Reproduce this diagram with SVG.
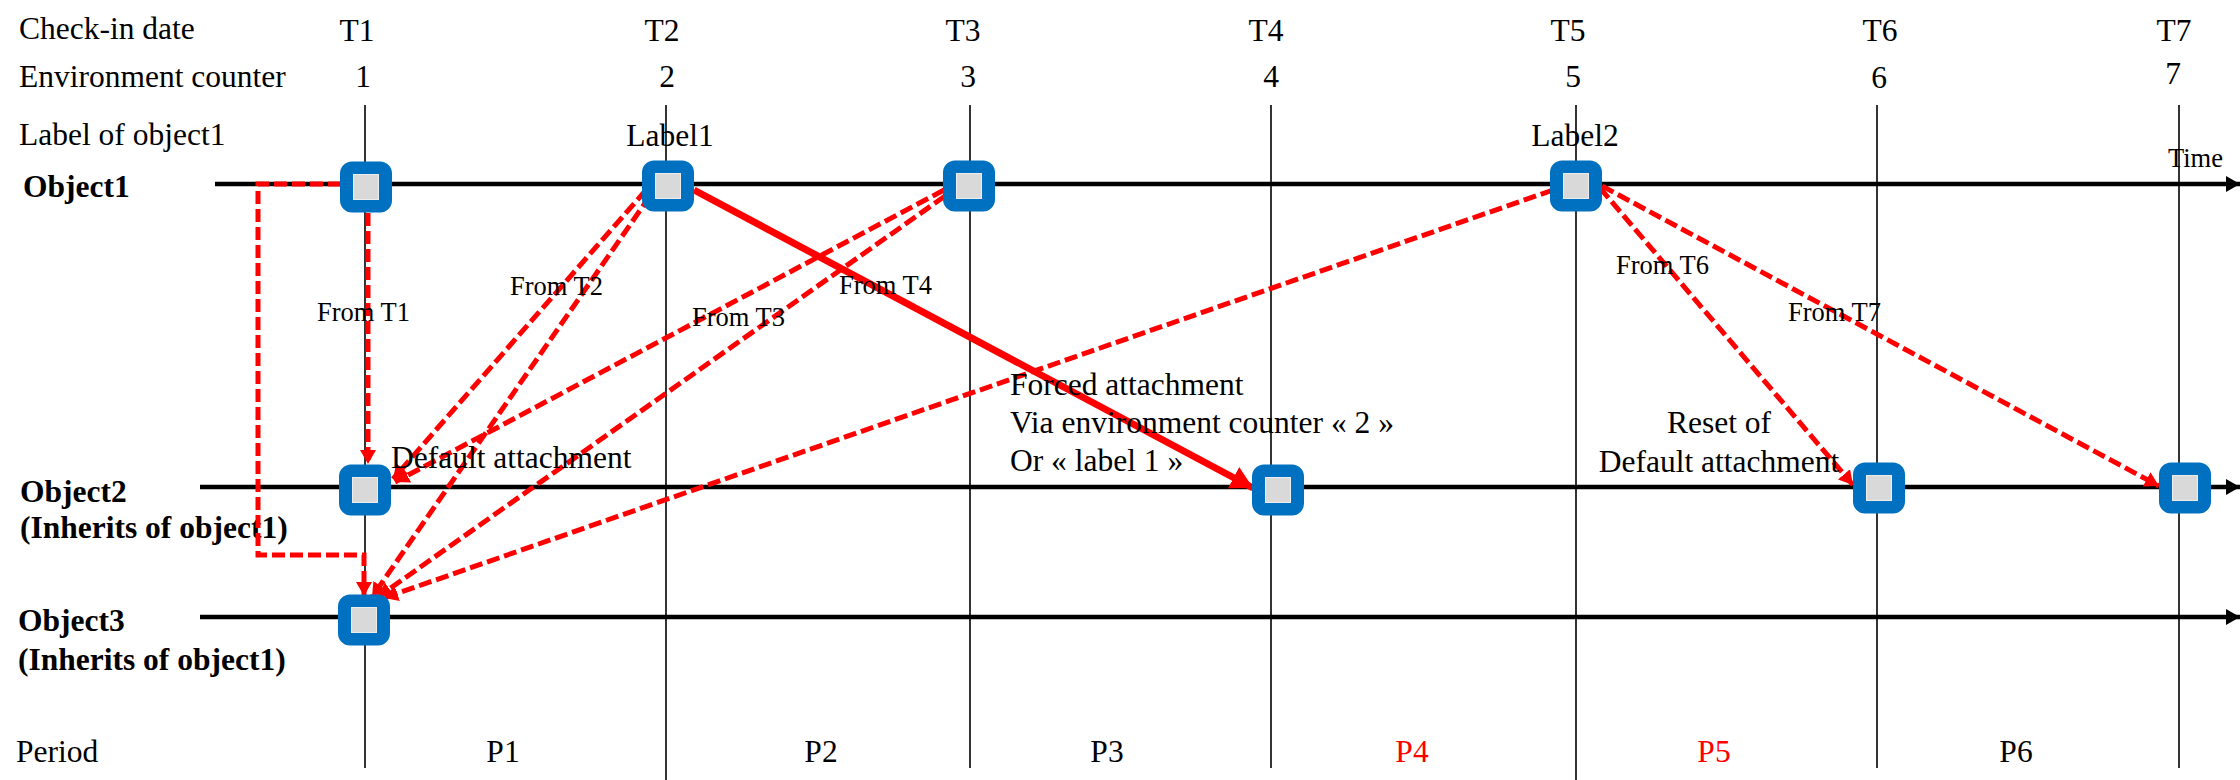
<svg xmlns="http://www.w3.org/2000/svg" width="2240" height="780" viewBox="0 0 2240 780">
<defs>
<style>
.t{font-family:"Liberation Serif","Times New Roman",serif;font-size:31.5px;fill:#000}
.s{font-family:"Liberation Serif","Times New Roman",serif;font-size:26.5px;fill:#000}
.b{font-family:"Liberation Serif","Times New Roman",serif;font-size:31.5px;font-weight:bold;fill:#000}
.c{text-anchor:middle}
.red{fill:#FF0000}
.vl{stroke:#000;stroke-width:1.6;fill:none}
.hl{stroke:#000;stroke-width:4.5;fill:none}
.dash{stroke:#FF0000;stroke-width:5;stroke-dasharray:13 5;fill:none}
.solid{stroke:#FF0000;stroke-width:7;fill:none}
.outer{fill:#0070C0}
.inner{fill:#D9D9D9;stroke:#EDEDED;stroke-width:1}
</style>
<marker id="ab" markerUnits="userSpaceOnUse" markerWidth="16" markerHeight="16" refX="14" refY="8" orient="auto"><path d="M0,0 L14,8 L0,16 z" fill="#000"/></marker>
<marker id="ar" markerUnits="userSpaceOnUse" markerWidth="16" markerHeight="16" refX="14" refY="8" orient="auto"><path d="M0,0 L14,8 L0,16 z" fill="#FF0000"/></marker>
<marker id="arb" markerUnits="userSpaceOnUse" markerWidth="24" markerHeight="24" refX="22" refY="12" orient="auto"><path d="M0,0 L22,12 L0,24 z" fill="#FF0000"/></marker>
</defs>
<rect width="2240" height="780" fill="#fff"/>

<g id="grid">
<line class="vl" x1="365" y1="105" x2="365" y2="768"/>
<line class="vl" x1="666" y1="105" x2="666" y2="780"/>
<line class="vl" x1="970" y1="105" x2="970" y2="768"/>
<line class="vl" x1="1271" y1="105" x2="1271" y2="768"/>
<line class="vl" x1="1576" y1="105" x2="1576" y2="780"/>
<line class="vl" x1="1877" y1="105" x2="1877" y2="768"/>
<line class="vl" x1="2179" y1="105" x2="2179" y2="768"/>
<line class="hl" x1="215" y1="184" x2="2240" y2="184" marker-end="url(#ab)"/>
<line class="hl" x1="200" y1="487" x2="2240" y2="487" marker-end="url(#ab)"/>
<line class="hl" x1="200" y1="617" x2="2240" y2="617" marker-end="url(#ab)"/>
</g>

<g id="labels">
<text class="t" x="19" y="39">Check-in date</text>
<text class="t c" x="357" y="41">T1</text>
<text class="t c" x="662" y="41">T2</text>
<text class="t c" x="963" y="41">T3</text>
<text class="t c" x="1266" y="41">T4</text>
<text class="t c" x="1568" y="41">T5</text>
<text class="t c" x="1880" y="41">T6</text>
<text class="t c" x="2174" y="41">T7</text>
<text class="t" x="19" y="87">Environment counter</text>
<text class="t c" x="363" y="87">1</text>
<text class="t c" x="667" y="87">2</text>
<text class="t c" x="968" y="87">3</text>
<text class="t c" x="1271" y="87">4</text>
<text class="t c" x="1573" y="87">5</text>
<text class="t c" x="1879" y="88">6</text>
<text class="t c" x="2173" y="84">7</text>
<text class="t" x="19" y="145">Label of object1</text>
<text class="t c" x="670" y="146">Label1</text>
<text class="t c" x="1575" y="146">Label2</text>
<text class="s" x="2168" y="167">Time</text>
<text class="b" x="23" y="197">Object1</text>
<text class="b" x="20" y="502">Object2</text>
<text class="b" x="20" y="538">(Inherits of object1)</text>
<text class="b" x="18" y="631">Object3</text>
<text class="b" x="18" y="670">(Inherits of object1)</text>
<text class="t" x="16" y="762">Period</text>
<text class="t c" x="503" y="762">P1</text>
<text class="t c" x="821" y="762">P2</text>
<text class="t c" x="1107" y="762">P3</text>
<text class="t c red" x="1412" y="762">P4</text>
<text class="t c red" x="1714" y="762">P5</text>
<text class="t c" x="2016" y="762">P6</text>
</g>

<g id="connectors">
<path class="dash" d="M341,184 H258 V555 H364 V596" marker-end="url(#ar)"/>
<path class="dash" d="M368,213 V464" marker-end="url(#ar)"/>
<path class="dash" d="M646,190 L393,479" marker-end="url(#ar)"/>
<path class="dash" d="M650,196 L372,597" marker-end="url(#ar)"/>
<path class="dash" d="M944,190 L395,482" marker-end="url(#ar)"/>
<path class="dash" d="M945,196 L378,597" marker-end="url(#ar)"/>
<path class="dash" d="M1553,190 L384,598" marker-end="url(#ar)"/>
<path class="solid" d="M694,190 L1253,488" marker-end="url(#arb)"/>
<path class="dash" d="M1600,188 L1853,485" marker-end="url(#ar)"/>
<path class="dash" d="M1602,186 L2159,486" marker-end="url(#ar)"/>
<text class="s" x="317" y="321">From T1</text>
<text class="s" x="510" y="295">From T2</text>
<text class="s" x="692" y="326">From T3</text>
<text class="s" x="839" y="294">From T4</text>
<text class="s" x="1616" y="274">From T6</text>
<text class="s" x="1788" y="321">From T7</text>
<text class="t" x="391" y="468">Default attachment</text>
<text class="t" x="1010" y="395">Forced attachment</text>
<text class="t" x="1010" y="433">Via environment counter « 2 »</text>
<text class="t" x="1010" y="471">Or « label 1 »</text>
<text class="t c" x="1719" y="433">Reset of</text>
<text class="t c" x="1719" y="472">Default attachment</text>
</g>

<g id="n_o1_t1"><rect class="outer" x="340" y="161.5" width="52" height="51" rx="12"/><rect class="inner" x="353.5" y="174.5" width="25" height="25"/></g>
<g id="n_o1_t2"><rect class="outer" x="642" y="160.5" width="52" height="51" rx="12"/><rect class="inner" x="655.5" y="173.5" width="25" height="25"/></g>
<g id="n_o1_t3"><rect class="outer" x="943" y="160.5" width="52" height="51" rx="12"/><rect class="inner" x="956.5" y="173.5" width="25" height="25"/></g>
<g id="n_o1_t5"><rect class="outer" x="1550" y="160.5" width="52" height="51" rx="12"/><rect class="inner" x="1563.5" y="173.5" width="25" height="25"/></g>
<g id="n_o2_t1"><rect class="outer" x="339" y="464.5" width="52" height="51" rx="12"/><rect class="inner" x="352.5" y="477.5" width="25" height="25"/></g>
<g id="n_o2_t4"><rect class="outer" x="1252" y="464.5" width="52" height="51" rx="12"/><rect class="inner" x="1265.5" y="477.5" width="25" height="25"/></g>
<g id="n_o2_t6"><rect class="outer" x="1853" y="462.5" width="52" height="51" rx="12"/><rect class="inner" x="1866.5" y="475.5" width="25" height="25"/></g>
<g id="n_o2_t7"><rect class="outer" x="2159" y="462.5" width="52" height="51" rx="12"/><rect class="inner" x="2172.5" y="475.5" width="25" height="25"/></g>
<g id="n_o3_t1"><rect class="outer" x="338" y="594.5" width="52" height="51" rx="12"/><rect class="inner" x="351.5" y="607.5" width="25" height="25"/></g>
</svg>
